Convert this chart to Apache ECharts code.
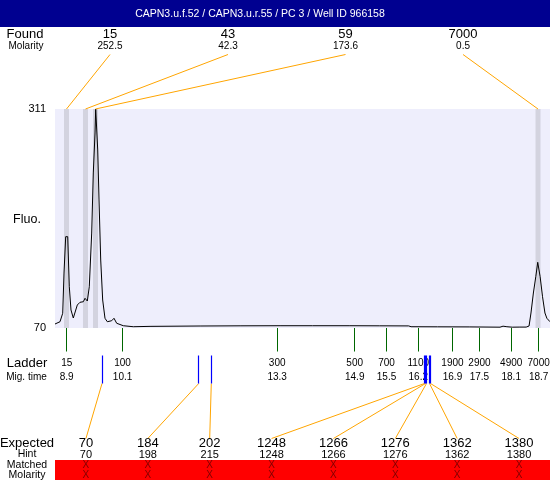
<!DOCTYPE html>
<html>
<head>
<meta charset="utf-8">
<script src="https://cdn.jsdelivr.net/npm/echarts/dist/echarts.min.js"></script>
<style>html,body{margin:0;padding:0;background:#fff}#c{width:550px;height:480px}</style>
</head>
<body>
<div id="c"></div>
<script>
// ---- data ----
const titleText = 'CAPN3.u.f.52 / CAPN3.u.r.55 / PC 3 / Well ID 966158';
const traceTime = [8.657, 8.761, 8.817, 8.844, 8.879, 8.921, 8.954, 8.989, 9.037, 9.072, 9.120, 9.176, 9.245, 9.280, 9.328, 9.369, 9.419, 9.452, 9.488, 9.502, 9.523, 9.544, 9.571, 9.606, 9.647, 9.695, 9.743, 9.834, 9.882, 9.938, 10.075, 10.283, 10.63, 11.67, 12.5, 13.33, 14.0, 14.78, 15.4, 16.0, 16.05, 16.6, 17.27, 17.897, 17.96, 18.04, 18.15, 18.31, 18.44, 18.50, 18.54, 18.59, 18.64, 18.68, 18.73, 18.78, 18.83, 18.87, 18.935];
const traceFluo = [74.4, 76.9, 86.2, 130.5, 170.5, 170.5, 115.4, 89.8, 81.0, 82.4, 95.3, 98.3, 98.9, 102.7, 99.7, 115.4, 174.5, 240.6, 284.6, 311, 311, 265.9, 210.9, 144.8, 100.8, 80.7, 76.9, 78.0, 80.7, 75.2, 72.5, 71.4, 71.8, 72.2, 72.4, 72.5, 72.5, 72.5, 72.4, 72.3, 71.4, 71.3, 71.2, 70.9, 72.0, 71.4, 70.9, 71.0, 71.0, 72.2, 86.5, 108.5, 126.5, 142.3, 126.5, 104.4, 86.5, 80.7, 76.9];
const yTicks = [70, 311];

const foundSize = ['15', '43', '59', '7000'];
const foundMolarity = ['252.5', '42.3', '173.6', '0.5'];
const foundPeakTime = [8.896, 9.290, 9.498, 18.686];
const foundLabelTime = [9.799, 12.249, 14.689, 17.129];

const ladderSize = ['15', '100', '300', '500', '700', '1100', '1900', '2900', '4900', '7000'];
const ladderMig = ['8.9', '10.1', '13.3', '14.9', '15.5', '16.2', '16.9', '17.5', '18.1', '18.7'];
const ladderTime = [8.90, 10.06, 13.27, 14.88, 15.54, 16.20, 16.91, 17.47, 18.13, 18.70];

const expectedSize = ['70', '184', '202', '1248', '1266', '1276', '1362', '1380'];
const hintSize = ['70', '198', '215', '1248', '1266', '1276', '1362', '1380'];
const expectedTime = [9.633, 11.641, 11.902, 16.329, 16.350, 16.371, 16.433, 16.454];
const matchedMark = ['X', 'X', 'X', 'X', 'X', 'X', 'X', 'X'];
const molarityMark = ['X', 'X', 'X', 'X', 'X', 'X', 'X', 'X'];

// ---- layout ----
const tMin = 8.657, tMax = 18.935;
const FONT = '"Liberation Sans", Arial, sans-serif';
const ROW = {
  foundLabel: 34.3, foundMol: 46.7, foundLineTop: 54.5, plotTop: 109, plotBot: 328,
  greenTop: 328, greenBot: 351.5, ladderLabel: 363.7, migLabel: 377,
  blueTop: 355.5, blueBot: 383.5, expLineBot: 438.5, expLabel: 443.5, hintLabel: 454.5,
  redTop: 460, redBot: 480, matched: 465.4, molarity: 475
};
const bandHalf = 0.052;
const slotTime = i => tMin + (i + 0.5) * (tMax - tMin) / expectedSize.length;
const crisp = x => Math.round(x - 0.5) + 0.5;

function txt(text, x, y, size, color, align) {
  return { type: 'text', style: { text: text, x: x, y: y, fill: color || '#000',
    font: size + 'px ' + FONT, align: align || 'center', verticalAlign: 'middle' } };
}
function seg(p0, p1, color, w) {
  return { type: 'line', shape: { x1: p0[0], y1: p0[1], x2: p1[0], y2: p1[1] },
    style: { stroke: color, lineWidth: w || 1 } };
}

const chart = echarts.init(document.getElementById('c'), null, { renderer: 'canvas' });
const ov = { xAxisIndex: 1, yAxisIndex: 1 };

chart.setOption({
  animation: false,
  graphic: [
    { type: 'rect', shape: { x: 0, y: 0, width: 550, height: 27 }, style: { fill: '#000090' }, z: 10 },
    { type: 'text', x: 260, y: 14, z: 11, style: { text: titleText, fill: '#fff', font: '10.5px ' + FONT, align: 'center', verticalAlign: 'middle' } },
    { type: 'text', x: 25, y: 34.3, style: { text: 'Found', fill: '#000', font: '13px ' + FONT, align: 'center', verticalAlign: 'middle' } },
    { type: 'text', x: 26, y: 46.7, style: { text: 'Molarity', fill: '#000', font: '10px ' + FONT, align: 'center', verticalAlign: 'middle' } },
    { type: 'text', x: 27, y: 220, style: { text: 'Fluo.', fill: '#000', font: '12.5px ' + FONT, align: 'center', verticalAlign: 'middle' } },
    { type: 'text', x: 27, y: 363.7, style: { text: 'Ladder', fill: '#000', font: '13px ' + FONT, align: 'center', verticalAlign: 'middle' } },
    { type: 'text', x: 26.5, y: 377, style: { text: 'Mig. time', fill: '#000', font: '10px ' + FONT, align: 'center', verticalAlign: 'middle' } },
    { type: 'text', x: 27, y: 443.5, style: { text: 'Expected', fill: '#000', font: '13px ' + FONT, align: 'center', verticalAlign: 'middle' } },
    { type: 'text', x: 27, y: 454.5, style: { text: 'Hint', fill: '#000', font: '10.5px ' + FONT, align: 'center', verticalAlign: 'middle' } },
    { type: 'text', x: 27, y: 465.6, style: { text: 'Matched', fill: '#000', font: '10.5px ' + FONT, align: 'center', verticalAlign: 'middle' } },
    { type: 'text', x: 27, y: 474.8, style: { text: 'Molarity', fill: '#000', font: '10.5px ' + FONT, align: 'center', verticalAlign: 'middle' } }
  ],
  grid: [
    { left: 55, top: 109, width: 495, height: 219, show: true, backgroundColor: '#eeeefc', borderWidth: 0 },
    { left: 55, top: 0, width: 495, height: 480, show: false }
  ],
  xAxis: [
    { type: 'value', gridIndex: 0, min: tMin, max: tMax, show: false },
    { type: 'value', gridIndex: 1, min: tMin, max: tMax, show: false }
  ],
  yAxis: [
    { type: 'value', gridIndex: 0, min: yTicks[0], max: yTicks[1], interval: yTicks[1] - yTicks[0],
      axisLine: { show: false }, axisTick: { show: false }, splitLine: { show: false },
      axisLabel: { color: '#000', fontSize: 11, fontFamily: FONT, margin: 9 } },
    { type: 'value', gridIndex: 1, min: 0, max: 480, inverse: true, show: false }
  ],
  series: [
    { type: 'custom', xAxisIndex: 0, yAxisIndex: 0, z: 1, data: foundPeakTime,
      renderItem: (params, api) => {
        const t = api.value(0);
        const a = api.coord([t - bandHalf, yTicks[1]]), b = api.coord([t + bandHalf, yTicks[0]]);
        return { type: 'rect', shape: { x: a[0], y: a[1], width: b[0] - a[0], height: b[1] - a[1] }, style: { fill: '#d3d3df' } };
      } },
    { type: 'line', xAxisIndex: 0, yAxisIndex: 0, z: 2, showSymbol: false, symbol: 'none',
      lineStyle: { color: '#000', width: 1 }, data: traceTime.map((t, i) => [t, traceFluo[i]]) },
    // found annotations
    Object.assign({ type: 'custom', z: 3, data: foundSize.map((s, i) => [foundLabelTime[i], i]),
      renderItem: (params, api) => {
        const i = params.dataIndex;
        const top = api.coord([foundLabelTime[i], ROW.foundLineTop]);
        const bot = api.coord([foundPeakTime[i], ROW.plotTop]);
        const lp = api.coord([foundLabelTime[i], ROW.foundLabel]);
        const mp = api.coord([foundLabelTime[i], ROW.foundMol]);
        return { type: 'group', children: [
          seg(top, bot, '#ffa500', 1),
          txt(foundSize[i], lp[0], lp[1], 13),
          txt(foundMolarity[i], mp[0], mp[1], 10)
        ] };
      } }, ov),
    // ladder
    Object.assign({ type: 'custom', z: 3, data: ladderTime.map((t, i) => [t, i]),
      renderItem: (params, api) => {
        const i = params.dataIndex;
        const a = api.coord([ladderTime[i], ROW.greenTop]), b = api.coord([ladderTime[i], ROW.greenBot]);
        const x = crisp(a[0]);
        return { type: 'group', children: [
          seg([x, a[1]], [x, b[1]], '#006600', 1),
          txt(ladderSize[i], a[0], ROW.ladderLabel, 10),
          txt(ladderMig[i], a[0], ROW.migLabel, 10)
        ] };
      } }, ov),
    // red band
    Object.assign({ type: 'custom', z: 3, data: [[tMin, 0]],
      renderItem: (params, api) => {
        const a = api.coord([tMin, ROW.redTop]), b = api.coord([tMax, ROW.redBot]);
        return { type: 'rect', shape: { x: a[0], y: a[1], width: b[0] - a[0], height: b[1] - a[1] }, style: { fill: '#ff0000' } };
      } }, ov),
    // expected annotations
    Object.assign({ type: 'custom', z: 4, data: expectedSize.map((s, i) => [slotTime(i), i]),
      renderItem: (params, api) => {
        const i = params.dataIndex;
        const st = slotTime(i);
        const lb = api.coord([st, ROW.expLineBot]);
        const bt = api.coord([expectedTime[i], ROW.blueBot]);
        return { type: 'group', children: [
          seg(lb, bt, '#ffa500', 1),
          txt(expectedSize[i], lb[0], ROW.expLabel, 13),
          txt(hintSize[i], lb[0], ROW.hintLabel, 11),
          txt(matchedMark[i], lb[0], ROW.matched, 10, '#800000'),
          txt(molarityMark[i], lb[0], ROW.molarity, 10, '#800000')
        ] };
      } }, ov),
    // blue expected markers
    Object.assign({ type: 'custom', z: 5, data: expectedTime.map((t, i) => [t, i]),
      renderItem: (params, api) => {
        const t = api.value(0);
        const a = api.coord([t, ROW.blueTop]), b = api.coord([t, ROW.blueBot]);
        const x = crisp(a[0]);
        return seg([x, a[1]], [x, b[1]], '#0000ff', 1.2);
      } }, ov)
  ]
});
</script>
</body>
</html>
